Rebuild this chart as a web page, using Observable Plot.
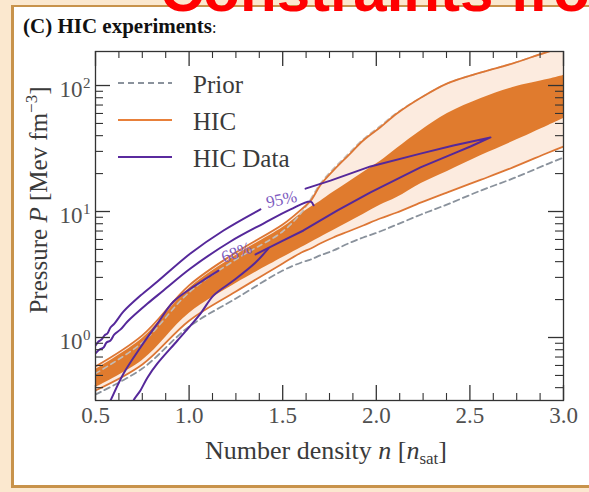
<!DOCTYPE html>
<html><head><meta charset="utf-8">
<script src="https://cdn.jsdelivr.net/npm/d3@7"></script>
<script src="https://cdn.jsdelivr.net/npm/@observablehq/plot@0.6"></script>
<style>
html,body{margin:0;padding:0;}
body{width:589px;height:492px;overflow:hidden;position:relative;background:#fbe8cf;}
#panel{position:absolute;left:11px;top:5px;width:600px;height:478px;background:#fff;border-left:3px solid #c8934b;border-top:2px solid #c8934b;border-bottom:3px solid #c8934b;}
#chart{position:absolute;left:0;top:0;}
</style></head>
<body><div id="panel"></div><div id="chart"></div>
<script>
// ---- data ----
const nPts        = [0.5, 0.75, 1.0, 1.25, 1.5, 1.6, 1.65, 1.7, 1.77, 1.85, 1.93, 2.02, 2.11, 2.24, 2.38, 2.56, 2.73, 2.92, 3.0];
const hic95Upper  = [0.589,1.04,2.59,4.73,7.88,10.4,12.2,16.1,21.1,27.8,36.6,46.4,59.9,80.3,104,127,150,186,200];
const hic68Upper  = [0.557,0.982,2.45,4.48,7.46,9.64,10.8,12.0,14.2,17.0,20.4,24.9,31.6,43.9,59.9,78.9,96.4,112,120];
const hic68Lower  = [0.401,0.657,1.55,2.68,4.31,5.18,5.68,6.22,7.07,8.18,9.47,11.2,12.9,16.7,20.8,27.8,35.9,48.2,54.7];
const hic95Lower  = [0.380,0.611,1.36,2.32,3.87,4.73,5.09,5.57,6.22,6.94,7.74,8.80,9.82,11.8,14.2,17.9,22.4,29.4,32.8];
const priorLower  = [0.353,0.567,1.22,2.04,3.40,3.94,4.16,4.48,4.90,5.57,6.22,6.94,7.88,9.47,11.4,14.7,18.3,24.0,26.8];
const priorUpper  = [0.518,0.912,2.28,4.16,6.94,9.8,12.6,16.6,21.8,28.6,37.5,47.5,60.9,80.3,104,127,150,186,200];

// HIC data contour pieces (n, P)
const dataL1N = [0.5,0.516,0.532,0.548,0.564,0.58,0.601,0.65,0.74,0.831,1.007,1.184,1.381];
const dataL1P = [0.865,0.929,0.964,1.04,1.08,1.20,1.29,1.61,2.15,2.78,4.64,7.07,10.4];
const dataL2N = [0.5,0.521,0.543,0.559,0.58,0.601,0.634,0.671,0.778,0.863,1.007,1.221,1.397,1.542,1.649,1.665];
const dataL2P = [0.747,0.803,0.833,0.913,0.947,1.06,1.16,1.34,1.86,2.36,3.53,5.78,8.03,10.4,12.0,11.2];
const dataLoopN = [1.622,1.755,1.969,2.236,2.412,2.61,2.503,2.412,2.236,1.969,1.793,1.611,1.504,1.355];
const dataLoopP = [15.2,17.6,22.8,28.8,33.4,38.7,32.8,28.8,22.4,14.2,10.2,7.07,5.89,4.56];
const dataAN = [1.157,1.034,0.917,0.831,0.74,0.65,0.58,0.559];
const dataAP = [3.40,2.59,1.93,1.29,0.833,0.518,0.316,0.273];
const dataBN = [1.424,1.355,1.237,1.13,1.061,0.938,0.831,0.778,0.74,0.703,0.692];
const dataBP = [5.09,3.94,2.83,2.15,1.55,0.947,0.622,0.482,0.380,0.316,0.273];

const contourLabels = ["95%", "68%"];
const contourLabelN = [1.494, 1.253];
const contourLabelP = [12.45, 4.73];
const contourLabelAngle = [-12, -20];

const xMajorTicks = [0.5, 1.0, 1.5, 2.0, 2.5, 3.0];
const xTickLabels = ["0.5", "1.0", "1.5", "2.0", "2.5", "3.0"];
const xMinorTicks = [0.625,0.75,0.875,1.125,1.25,1.375,1.625,1.75,1.875,2.125,2.25,2.375,2.625,2.75,2.875];
const yMajorTicks = [1, 10, 100];
const yTickExponents = ["0", "1", "2"];
const yMinorTicks = [0.4,0.5,0.6,0.7,0.8,0.9,2,3,4,5,6,7,8,9,20,30,40,50,60,70,80,90];

const legendLabels = ["Prior", "HIC", "HIC Data"];

// ---- build ----
const W = 589, H = 492, mL = 95, mR = 26, mT = 51, mB = 92;
const plotW = W - mL - mR, plotH = H - mT - mB;
const AX = "#333", TXT = "#3a3a3a";
const SERIF = "'Liberation Serif', 'Times New Roman', serif";

const band = nPts.map((n, i) => ({n, u95: hic95Upper[i], u68: hic68Upper[i], l68: hic68Lower[i], l95: hic95Lower[i], pl: priorLower[i], pu: priorUpper[i]}));
const seg = (name, N, P) => N.map((n, i) => ({seg: name, n, p: P[i]}));
const smoothData = [...seg("L1", dataL1N, dataL1P), ...seg("L2", dataL2N, dataL2P), ...seg("A", dataAN, dataAP), ...seg("B", dataBN, dataBP)];
const loopData = seg("loop", dataLoopN, dataLoopP);
const labelRows = contourLabels.map((t, i) => ({t, n: contourLabelN[i], p: contourLabelP[i], a: contourLabelAngle[i]}));
const xTickRows = xMajorTicks.map((v, i) => ({v, t: xTickLabels[i]}));
const yTickRows = yMajorTicks.map((v, i) => ({v, e: yTickExponents[i]}));

const ORANGE_LINE = "#dd7634", DARK = "#e07b2e", LIGHT = "#fcebdf", PURPLE = "#55289a";

const chart = Plot.plot({
  width: W, height: H,
  marginLeft: mL, marginRight: mR, marginTop: mT, marginBottom: mB,
  style: {background: "none", fontFamily: SERIF, overflow: "visible"},
  x: {domain: [0.5, 3.0], axis: null},
  y: {type: "log", domain: [Math.pow(10, -0.5), Math.pow(10, 2.27)], axis: null},
  marks: [
    Plot.areaY(band, {x: "n", y1: "l95", y2: "u95", fill: LIGHT, curve: "catmull-rom", clip: true}),
    Plot.areaY(band, {x: "n", y1: "l68", y2: "u68", fill: DARK, curve: "catmull-rom", clip: true}),
    Plot.line(band, {x: "n", y: "pu", stroke: "#c4bcb5", strokeWidth: 1.6, strokeDasharray: "5,4", curve: "catmull-rom", clip: true}),
    Plot.line(band, {x: "n", y: "pl", stroke: "#8a929c", strokeWidth: 1.8, strokeDasharray: "6,4", curve: "catmull-rom", clip: true}),
    Plot.line(band, {x: "n", y: "u95", stroke: ORANGE_LINE, strokeWidth: 1.8, curve: "catmull-rom", clip: true}),
    Plot.line(band, {x: "n", y: "l95", stroke: ORANGE_LINE, strokeWidth: 1.8, curve: "catmull-rom", clip: true}),
    Plot.line(smoothData, {x: "n", y: "p", z: "seg", stroke: PURPLE, strokeWidth: 2, curve: "catmull-rom", clip: true}),
    Plot.line(loopData, {x: "n", y: "p", stroke: PURPLE, strokeWidth: 2, clip: true}),
    Plot.text(labelRows, {x: "n", y: "p", text: "t", rotate: "a", fill: "#7d5cc0", fontSize: 17, fontFamily: SERIF}),
    Plot.frame({stroke: AX, strokeWidth: 1.3}),
    // inward ticks, four sides
    Plot.tickX(xMajorTicks, {x: d => d, insetTop: plotH - 15, stroke: AX, strokeWidth: 1.3}),
    Plot.tickX(xMajorTicks, {x: d => d, insetBottom: plotH - 15, stroke: AX, strokeWidth: 1.3}),
    Plot.tickX(xMinorTicks, {x: d => d, insetTop: plotH - 7, stroke: AX, strokeWidth: 1.1}),
    Plot.tickX(xMinorTicks, {x: d => d, insetBottom: plotH - 7, stroke: AX, strokeWidth: 1.1}),
    Plot.tickY(yMajorTicks, {y: d => d, insetRight: plotW - 15, stroke: AX, strokeWidth: 1.3}),
    Plot.tickY(yMajorTicks, {y: d => d, insetLeft: plotW - 15, stroke: AX, strokeWidth: 1.3}),
    Plot.tickY(yMinorTicks, {y: d => d, insetRight: plotW - 8, stroke: AX, strokeWidth: 1.1}),
    Plot.tickY(yMinorTicks, {y: d => d, insetLeft: plotW - 8, stroke: AX, strokeWidth: 1.1}),
    // tick labels
    Plot.text(xTickRows, {x: "v", frameAnchor: "bottom", text: "t", lineAnchor: "top", dy: 6, fontSize: 23, fill: "#505050", fontFamily: SERIF}),
    Plot.text(yTickRows, {y: "v", frameAnchor: "left", text: () => "10", textAnchor: "end", dx: -13, dy: 4.5, fontSize: 23, fill: "#505050", fontFamily: SERIF}),
    Plot.text(yTickRows, {y: "v", frameAnchor: "left", text: "e", textAnchor: "end", dx: -5, dy: -2, fontSize: 15, fill: "#505050", fontFamily: SERIF})
  ]
});
document.getElementById("chart").appendChild(chart);

const svg = d3.select(chart);
// clipped heading at the very top
svg.append("text").attr("x", 160).attr("y", 11).attr("text-anchor", "start")
  .attr("font-family", "'Liberation Sans', Arial, sans-serif").attr("font-weight", "bold")
  .attr("font-size", 60).attr("fill", "#ff0000").text("Constraints from");
// panel title
const ttl = svg.append("text").attr("x", 23).attr("y", 33).attr("text-anchor", "start")
  .attr("font-family", SERIF).attr("fill", "#111");
ttl.append("tspan").attr("font-weight", "bold").attr("font-size", 21).text("(C) HIC experiments");
ttl.append("tspan").attr("font-size", 16).text(":");

// legend
const legendStyles = [
  {stroke: "#8a929c", dash: "6,4"},
  {stroke: "#e8803a", dash: null},
  {stroke: "#5a2a9e", dash: null}
];
legendLabels.forEach((lab, i) => {
  const y = 83 + i * 37;
  const s = legendStyles[i];
  svg.append("line").attr("x1", 118).attr("x2", 172).attr("y1", y).attr("y2", y)
    .attr("stroke", s.stroke).attr("stroke-width", 2.2).attr("stroke-dasharray", s.dash);
  svg.append("text").attr("x", 193).attr("y", y + 10).attr("text-anchor", "start").attr("font-family", SERIF)
    .attr("font-size", 25).attr("fill", TXT).text(lab);
});

// x label
const xl = svg.append("text").attr("x", 326).attr("y", 459).attr("text-anchor", "middle")
  .attr("font-family", SERIF).attr("font-size", 26).attr("fill", TXT);
xl.append("tspan").text("Number density ");
xl.append("tspan").attr("font-style", "italic").text("n");
xl.append("tspan").text(" [");
xl.append("tspan").attr("font-style", "italic").text("n");
xl.append("tspan").attr("font-size", 17).attr("dy", 5).text("sat");
xl.append("tspan").attr("dy", -5).text("]");

// y label
const yl = svg.append("text").attr("transform", "translate(47,200) rotate(-90)").attr("text-anchor", "middle")
  .attr("font-family", SERIF).attr("font-size", 25).attr("fill", TXT);
yl.append("tspan").text("Pressure ");
yl.append("tspan").attr("font-style", "italic").text("P");
yl.append("tspan").text(" [Mev fm");
yl.append("tspan").attr("font-size", 17).attr("dy", -10).text("\u22123");
yl.append("tspan").attr("dy", 10).text("]");
</script></body></html>
